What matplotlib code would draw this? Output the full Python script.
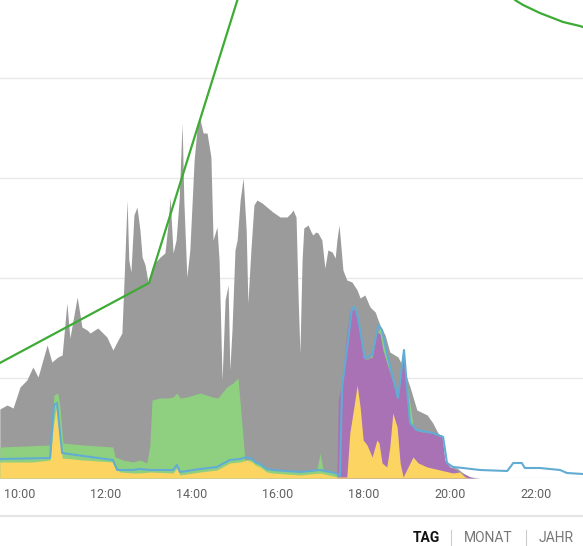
import matplotlib
matplotlib.use("Agg")
import matplotlib.pyplot as plt
from matplotlib.lines import Line2D
from matplotlib.ticker import FuncFormatter

# ---- data (decimal hours, kW) ------------------------------------------------
gray_t = [9.53, 9.70, 9.84, 10.00, 10.16, 10.30, 10.42, 10.63, 10.74, 10.88, 10.98,
          11.09, 11.16, 11.33, 11.44, 11.56, 11.63, 11.81, 12.02, 12.16, 12.28, 12.37,
          12.42, 12.49, 12.53, 12.58, 12.65, 12.72, 12.79, 12.84, 12.91, 12.98, 13.09,
          13.26, 13.37, 13.44, 13.49, 13.56, 13.63, 13.70, 13.77, 13.81, 13.88, 13.95,
          14.05, 14.12, 14.19, 14.26, 14.35, 14.44, 14.49, 14.58, 14.63, 14.70, 14.77,
          14.84, 14.88, 14.93, 15.00, 15.05, 15.12, 15.19, 15.26, 15.30, 15.37, 15.44,
          15.51, 15.63, 15.74, 15.88, 16.05, 16.21, 16.30, 16.35, 16.42, 16.47, 16.51,
          16.56, 16.60, 16.70, 16.77, 16.81, 16.88, 16.93, 17.02, 17.09, 17.16, 17.26,
          17.33, 17.37, 17.42, 17.47, 17.51, 17.60, 17.72, 17.84, 17.91, 18.02, 18.14,
          18.26, 18.37, 18.49, 18.60, 18.79, 18.91, 19.07, 19.23, 19.47, 19.60, 19.72,
          19.81, 19.88, 20.00, 20.16, 20.30, 20.47, 20.58]
gray_v = [0.69, 0.73, 0.70, 0.91, 0.98, 1.11, 1.01, 1.33, 1.16, 1.21, 1.23,
          1.75, 1.40, 1.81, 1.51, 1.48, 1.45, 1.50, 1.41, 1.28, 1.38, 1.45,
          1.98, 2.78, 2.18, 2.06, 2.63, 2.71, 2.48, 2.21, 2.13, 1.95, 2.13,
          2.21, 2.25, 2.53, 2.81, 2.25, 2.38, 2.78, 3.55, 2.78, 2.01, 2.28,
          3.18, 3.51, 3.58, 3.45, 3.45, 3.21, 2.38, 2.51, 2.18, 0.98, 1.78,
          1.93, 1.08, 1.48, 2.28, 2.38, 2.78, 3.00, 2.48, 1.75, 2.28, 2.73,
          2.78, 2.75, 2.71, 2.66, 2.61, 2.61, 2.65, 2.68, 2.61, 1.78, 1.25,
          2.18, 2.50, 2.53, 2.46, 2.43, 2.46, 2.45, 2.38, 2.10, 2.28, 2.26,
          2.20, 2.38, 2.53, 2.28, 2.08, 1.98, 1.96, 1.88, 1.80, 1.83, 1.71,
          1.66, 1.53, 1.43, 1.26, 1.21, 1.11, 0.91, 0.68, 0.63, 0.55, 0.45,
          0.41, 0.15, 0.11, 0.10, 0.05, 0.01, 0.0]

green_t = [9.53, 10.70, 10.79, 10.88, 10.93, 11.00, 11.47, 12.16, 12.21, 12.40, 12.63,
           12.79, 12.95, 13.02, 13.07, 13.26, 13.42, 13.56, 13.65, 13.72, 13.88, 14.19,
           14.47, 14.60, 14.81, 14.95, 15.07, 15.16, 15.23, 15.40, 15.58, 15.88, 16.51,
           16.90, 16.98, 17.05, 17.33, 17.60, 18.00, 18.30, 18.37, 18.45, 18.53, 18.65,
           18.80, 18.91, 19.00, 19.07, 19.15, 19.50, 19.80, 19.88, 20.00, 20.30]
green_v = [0.31, 0.33, 0.83, 0.85, 0.71, 0.35, 0.33, 0.31, 0.21, 0.18, 0.16,
           0.18, 0.15, 0.33, 0.78, 0.80, 0.80, 0.81, 0.85, 0.80, 0.81, 0.85,
           0.81, 0.80, 0.91, 0.95, 1.00, 0.55, 0.18, 0.19, 0.14, 0.08, 0.06,
           0.08, 0.25, 0.08, 0.05, 0.03, 1.00, 1.40, 1.52, 1.42, 1.24, 0.90,
           0.75, 0.95, 0.94, 0.74, 0.50, 0.44, 0.40, 0.12, 0.08, 0.05]

purple_t = [17.37, 17.40, 17.49, 17.58, 17.67, 17.79, 17.84, 17.91, 17.98, 18.07,
            18.19, 18.30, 18.37, 18.44, 18.56, 18.67, 18.77, 18.84, 18.91, 18.95,
            19.00, 19.07, 19.19, 19.37, 19.60, 19.81, 19.88, 20.00, 20.23, 20.47, 20.70]
purple_v = [0.0, 0.78, 0.96, 1.38, 1.68, 1.68, 1.65, 1.41, 1.20, 1.18,
            1.21, 1.45, 1.45, 1.28, 1.11, 0.95, 0.81, 0.95, 1.23, 1.13,
            0.81, 0.55, 0.48, 0.46, 0.45, 0.43, 0.18, 0.11, 0.06, 0.01, 0.0]

yellow_t = [9.53, 10.30, 10.70, 10.77, 10.84, 10.88, 10.93, 10.98, 11.47, 12.16, 12.21,
            12.33, 12.63, 12.79, 13.02, 13.56, 13.65, 13.72, 14.19, 14.58, 14.88, 15.12,
            15.28, 15.40, 15.47, 15.58, 15.74, 15.88, 16.51, 16.98, 17.37, 17.60, 17.67,
            17.79, 17.84, 17.91, 17.98, 18.07, 18.19, 18.30, 18.35, 18.42, 18.53, 18.60,
            18.67, 18.77, 18.84, 18.91, 19.07, 19.14, 19.26, 19.47, 19.77, 20.07, 20.23,
            20.35, 20.47]
yellow_v = [0.16, 0.16, 0.18, 0.51, 0.70, 0.68, 0.48, 0.20, 0.18, 0.16, 0.10,
            0.06, 0.05, 0.05, 0.06, 0.05, 0.10, 0.03, 0.06, 0.08, 0.15, 0.16,
            0.18, 0.16, 0.13, 0.11, 0.06, 0.05, 0.03, 0.05, 0.01, 0.01, 0.45,
            0.78, 0.93, 0.71, 0.38, 0.33, 0.21, 0.38, 0.35, 0.15, 0.11, 0.31,
            0.65, 0.51, 0.15, 0.01, 0.15, 0.21, 0.15, 0.11, 0.08, 0.05, 0.06,
            0.01, 0.0]

blue_t = [9.53, 10.70, 10.79, 10.86, 10.98, 11.47, 12.16, 12.26, 12.63, 12.79, 13.02,
          13.56, 13.65, 13.72, 14.19, 14.58, 14.88, 15.12, 15.28, 15.40, 15.47, 15.58,
          15.74, 15.88, 16.51, 16.98, 17.33, 17.44, 17.49, 17.63, 17.72, 17.79, 17.86,
          18.02, 18.19, 18.33, 18.42, 18.53, 18.67, 18.79, 18.88, 18.93, 19.00, 19.07,
          19.23, 19.60, 19.84, 19.93, 20.07, 20.30, 20.70, 21.33, 21.42, 21.47, 21.67,
          21.74, 22.09, 22.56, 22.72, 23.09]
blue_v = [0.19, 0.20, 0.73, 0.75, 0.25, 0.22, 0.18, 0.08, 0.08, 0.09, 0.08,
          0.08, 0.13, 0.06, 0.09, 0.11, 0.18, 0.19, 0.21, 0.19, 0.16, 0.14,
          0.09, 0.08, 0.06, 0.08, 0.05, 0.02, 0.91, 1.38, 1.70, 1.71, 1.60,
          1.20, 1.23, 1.53, 1.48, 1.25, 1.01, 0.80, 1.11, 1.28, 0.91, 0.55,
          0.48, 0.45, 0.41, 0.15, 0.11, 0.10, 0.08, 0.07, 0.12, 0.15, 0.15,
          0.10, 0.10, 0.08, 0.05, 0.04]

line_t = [9.53, 13.00, 16.00, 18.00, 20.00, 21.00, 21.51, 21.70, 22.09, 22.63, 23.02, 23.09]
line_v = [1.15, 1.95, 6.08, 7.50, 6.60, 5.30, 4.78, 4.73, 4.65, 4.56, 4.52, 4.51]

hour_ticks = [10, 12, 14, 16, 18, 20, 22]
buttons = ["TAG", "MONAT", "JAHR"]

GRAY = "#9b9b9b"
GREEN = "#8ecf80"
YELLOW = "#fcd462"
PURPLE = "#a872b5"
BLUE = "#62acd4"
LINE_GREEN = "#3dab35"

plt.rcParams["font.family"] = ["Roboto", "DejaVu Sans"]

fig = plt.figure(figsize=(5.83, 5.46), dpi=100)
ax = fig.add_axes([0, 68 / 546, 1, 478 / 546])

for y in [0, 1, 2, 3, 4]:
    ax.axhline(y, color="#e8e8e8", lw=1, zorder=0)

ax.fill_between(gray_t, 0, gray_v, color=GRAY, lw=0, zorder=1)
ax.fill_between(green_t, 0, green_v, color=GREEN, lw=0, zorder=2)
ax.fill_between(purple_t, 0, purple_v, color=PURPLE, lw=0, zorder=3)
ax.fill_between(yellow_t, 0, yellow_v, color=YELLOW, lw=0, zorder=4)
ax.plot(blue_t, blue_v, color=BLUE, lw=1.5, zorder=5)
ax.plot(line_t, line_v, color=LINE_GREEN, lw=1.6, zorder=6)

ax.set_xlim(9.535, 23.093)
ax.set_ylim(0, 4.78)
ax.set_yticks([])
ax.set_xticks(hour_ticks)
ax.xaxis.set_major_formatter(FuncFormatter(lambda v, _: f"{int(v):02d}:00"))
ax.tick_params(axis="x", length=0, pad=7, labelsize=9, labelcolor="#616161")
for s in ax.spines.values():
    s.set_visible(False)

# tab bar under the chart
fig.add_artist(Line2D([0, 1], [30 / 546, 30 / 546], color="#e4e4e4", lw=1.5))
btn_x = [426, 488, 556]
for i, (label, bx) in enumerate(zip(buttons, btn_x)):
    fig.text(bx / 583, 8 / 546, label, ha="center", va="center", fontsize=10,
             fontweight="bold" if i == 0 else "normal",
             color="#111111" if i == 0 else "#777777")
for xd in [451, 526]:
    fig.add_artist(Line2D([xd / 583, xd / 583], [1 / 546, 16 / 546], color="#cccccc", lw=0.8))

fig.savefig("out.png", dpi=100)
